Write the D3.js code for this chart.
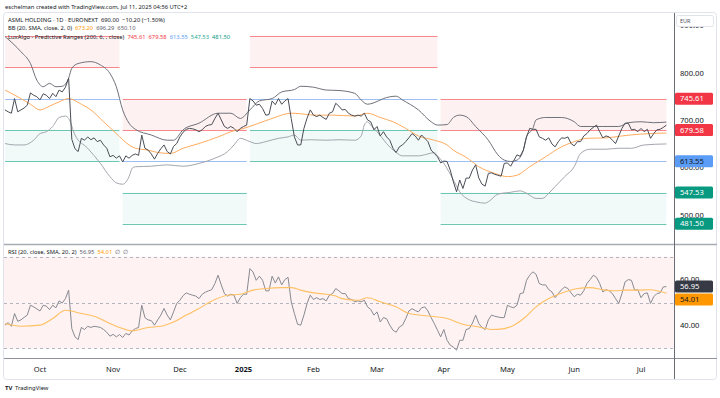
<!DOCTYPE html>
<html>
<head>
<meta charset="utf-8">
<script src="https://cdn.jsdelivr.net/npm/d3@7"></script>
<style>
  body { margin: 0; background: #fff; }
  svg { display: block; font-family: "Noto Sans", Roboto, sans-serif; }
</style>
</head>
<body>
<div id="chart"></div>
<script>
// ---- data (session index 0 = 2024-09-16) ----
const startDate = "2024-09-16";
const sessionCount = 209;
const holidays = ["2024-12-25", "2024-12-26", "2025-01-01", "2025-04-18", "2025-04-21", "2025-05-01"];
const monthNames = ["Jan", "Feb", "Mar", "Apr", "May", "Jun", "Jul", "Aug", "Sep", "Oct", "Nov", "Dec"];

const close = [
  722, 718, 715, 746, 718, 722, 726, 732, 758, 753,
  750, 743, 756, 753, 746, 757, 750, 764, 760, 770,
  789, 660, 640, 634, 662, 658, 665, 659, 663, 655,
  658, 648, 641, 623, 626, 620, 625, 612, 625, 620,
  626, 629, 626, 669, 641, 637, 629, 618, 630, 640,
  648, 634, 629, 645, 651, 665, 675, 681, 683, 682,
  680, 676, 680, 687, 690, 691, 704, 715, 701, 687,
  683, 687, 683, 676, 683, 687, 690, 746, 741, 732,
  734, 725, 711, 712, 741, 733, 746, 734, 741, 746,
  704, 665, 648, 648, 683, 705, 722, 711, 708, 711,
  706, 702, 715, 718, 736, 730, 722, 723, 715, 711,
  709, 711, 709, 715, 701, 697, 680, 687, 667, 676,
  665, 658, 641, 632, 644, 648, 655, 663, 672, 667,
  658, 669, 662, 655, 637, 630, 623, 610, 614, 613,
  595, 570, 549, 574, 556, 578, 578, 595, 606, 578,
  565, 561, 588, 589, 586, 584, 582, 609, 610, 603,
  615, 627, 624, 637, 665, 683, 681, 681, 665, 662,
  658, 663, 650, 644, 655, 663, 662, 665, 651, 646,
  655, 655, 667, 672, 680, 685, 690, 676, 663, 667,
  665, 658, 651, 667, 683, 694, 694, 680, 681, 676,
  683, 676, 681, 662, 672, 680, 681, 685, 690
];

const bbUpper = [
  [0, 877], [5, 845], [8, 820], [10, 785], [12, 771], [14, 778], [16, 771], [18, 772],
  [20, 789], [21, 810], [23, 820], [27, 824], [30, 817], [33, 799], [35, 771], [37, 722],
  [39, 694], [41, 681], [46, 669], [51, 658], [53, 658], [56, 680], [61, 694], [67, 715],
  [71, 715], [74, 704], [77, 722], [80, 741], [84, 746], [87, 760], [91, 765], [93, 772],
  [97, 770], [101, 764], [105, 763], [110, 757], [112, 743], [114, 734], [116, 737],
  [119, 746], [123, 751], [125, 743], [130, 722], [134, 697], [136, 690], [139, 691],
  [141, 706], [143, 711], [145, 708], [148, 687], [152, 658], [155, 627], [157, 616],
  [159, 613], [161, 616], [163, 637], [164, 665], [166, 683], [167, 701], [170, 706],
  [175, 706], [179, 697], [181, 687], [184, 687], [188, 687], [193, 687], [196, 695],
  [200, 697], [204, 695], [208, 696.29]
];

const bbLower = [
  [0, 651], [3, 648], [6, 648], [9, 658], [11, 672], [13, 676], [15, 687], [17, 706],
  [19, 709], [20, 704], [22, 669], [26, 641], [30, 609], [33, 581], [35, 568], [37, 565],
  [39, 581], [40, 599], [41, 602], [46, 603], [51, 606], [56, 603], [61, 609], [66, 620],
  [70, 634], [72, 648], [74, 662], [77, 655], [79, 651], [82, 655], [86, 662], [89, 665],
  [91, 669], [93, 658], [96, 659], [101, 658], [105, 659], [110, 658], [112, 667],
  [113, 690], [114, 697], [115, 690], [117, 676], [120, 651], [123, 632], [125, 625],
  [130, 625], [133, 629], [135, 632], [136, 625], [138, 609], [141, 574], [143, 549],
  [146, 532], [148, 528], [151, 525], [152, 528], [155, 544], [159, 548], [162, 551],
  [164, 546], [167, 535], [169, 535], [171, 546], [173, 560], [176, 581], [179, 602],
  [181, 630], [184, 639], [189, 639], [193, 641], [197, 641], [201, 648], [208, 650.10]
];

const bbBasis = [
  [0, 764], [5, 746], [8, 734], [11, 722], [14, 730], [17, 739], [20, 746], [24, 734],
  [27, 722], [31, 697], [35, 672], [39, 648], [41, 641], [45, 637], [48, 632], [52, 630],
  [56, 641], [61, 651], [67, 665], [72, 678], [74, 681], [79, 692], [84, 704], [90, 715],
  [93, 714], [97, 711], [103, 711], [110, 709], [114, 715], [118, 706], [122, 697],
  [126, 683], [130, 667], [135, 658], [139, 648], [141, 637], [145, 622], [149, 602],
  [154, 588], [158, 581], [161, 584], [165, 602], [170, 623], [175, 644], [179, 655],
  [183, 662], [189, 663], [194, 667], [200, 671], [208, 673.20]
];

// LuxAlgo predictive ranges: one average per segment, levels at +-1 and +-2 steps
const rangeStart = [0, 37, 77, 137];
const rangeEnd = [36, 76, 136, 208];
const rangeAvg = [745.61, 613.55, 745.61, 613.55];
const rangeStep = 66.03;

const rsi = [
  40.1, 41.2, 39.6, 45.2, 41.8, 42.4, 43.5, 44.5, 48.8, 48.1,
  47.2, 46.3, 48.8, 48.4, 46.9, 48.8, 47.7, 50.7, 49.8, 51.7,
  55.4, 38.6, 35.0, 33.8, 39.1, 38.2, 39.6, 39.1, 39.6, 39.4,
  39.1, 38.2, 37.0, 35.3, 36.1, 35.0, 36.0, 34.7, 36.5, 35.8,
  37.6, 38.6, 39.1, 48.8, 43.4, 42.4, 42.1, 40.1, 42.4, 44.5,
  47.4, 44.5, 42.4, 45.9, 49.6, 51.0, 53.0, 54.2, 53.6, 53.2,
  52.8, 51.7, 53.6, 54.5, 55.1, 55.6, 58.3, 61.9, 57.7, 53.9,
  52.8, 53.6, 53.2, 49.6, 52.1, 53.6, 53.6, 64.8, 63.3, 59.7,
  61.5, 59.7, 55.1, 55.1, 61.5, 58.5, 61.2, 57.7, 60.0, 61.0,
  50.3, 45.2, 40.5, 40.1, 44.5, 49.6, 53.2, 51.3, 52.1, 51.3,
  51.7, 50.7, 53.2, 53.9, 56.1, 55.1, 53.9, 53.9, 51.7, 51.3,
  50.3, 50.7, 50.3, 51.0, 48.1, 47.0, 44.5, 45.9, 41.5, 43.4,
  42.9, 40.1, 37.9, 37.0, 39.3, 40.1, 42.9, 46.3, 47.3, 46.5,
  45.9, 47.7, 48.1, 46.3, 43.4, 40.8, 37.9, 35.0, 38.2, 33.5,
  31.4, 30.5, 29.2, 33.5, 33.5, 38.2, 38.6, 41.0, 44.5, 40.8,
  39.1, 38.2, 42.4, 44.5, 44.0, 43.7, 43.4, 43.4, 48.8, 48.1,
  47.7, 48.8, 53.9, 54.2, 59.7, 61.9, 63.4, 62.3, 58.3, 57.7,
  57.7, 55.6, 54.6, 52.1, 53.9, 55.6, 56.8, 56.1, 54.2, 52.5,
  53.6, 53.2, 55.1, 58.3, 60.0, 61.9, 61.0, 58.3, 54.6, 55.6,
  55.1, 53.9, 51.7, 49.6, 53.9, 59.0, 60.0, 59.7, 55.4, 55.6,
  52.1, 53.9, 54.2, 49.6, 52.5, 53.9, 54.2, 56.8, 56.95
];

const rsiMa = [
  [0, 40.8], [5, 39.6], [11, 40.1], [15, 43], [19, 46.6], [24, 45.2], [28, 44], [32, 41.5],
  [36, 39.1], [40, 37.6], [45, 39.1], [49, 39.6], [53, 41.5], [57, 44.5], [61, 47.4],
  [66, 51.3], [70, 53.2], [74, 53.6], [78, 55.4], [82, 56.1], [87, 56.5], [90, 56.5],
  [93, 55.4], [97, 54.2], [101, 53.6], [104, 52.8], [106, 51.7], [111, 51], [114, 52.1],
  [118, 50.3], [123, 48.1], [127, 45.2], [134, 44], [139, 43], [144, 40.5], [149, 39.3],
  [153, 38.2], [157, 38.6], [160, 40.1], [163, 42.9], [167, 48.1], [171, 51.7],
  [176, 54.6], [180, 56.1], [184, 56.5], [188, 55.6], [192, 55.1], [195, 55.4],
  [199, 55.4], [203, 55.6], [208, 54.01]
];

const priceTicks = [500, 600, 700, 800, 900];
const rsiTicks = [40, 60];
const rsiLevels = [30, 50, 70];

// ---- layout ----
const W = 720, H = 398;
const plotL = 4, plotR = 674;
const mainTop = 13, mainBot = 244;
const rsiTop = 245, rsiBot = 358;
const timeBot = 379;

const svg = d3.select("#chart").append("svg").attr("width", W).attr("height", H);

// trading sessions
const holidaySet = new Set(holidays);
const fmt = d3.utcFormat("%Y-%m-%d");
const sessions = [];
let day = new Date(startDate + "T00:00:00Z");
while (sessions.length < sessionCount) {
  const wd = day.getUTCDay();
  if (wd !== 0 && wd !== 6 && !holidaySet.has(fmt(day))) sessions.push(new Date(day));
  day = d3.utcDay.offset(day, 1);
}
const monthStarts = [];
sessions.forEach((d, i) => {
  if (i > 0 && d.getUTCMonth() !== sessions[i - 1].getUTCMonth()) monthStarts.push(i);
});

const x = d3.scaleLinear().domain([11, 200]).range([40, 641]);
const y = d3.scaleLinear().domain([500, 800]).range([215, 73]);
const yR = d3.scaleLinear().domain([30, 70]).range([348.3, 256.7]);

// clip paths
const defs = svg.append("defs");
defs.append("clipPath").attr("id", "clipMain").append("rect")
  .attr("x", plotL).attr("y", mainTop).attr("width", plotR - plotL).attr("height", mainBot - mainTop);
defs.append("clipPath").attr("id", "clipRsi").append("rect")
  .attr("x", plotL).attr("y", rsiTop).attr("width", plotR - plotL).attr("height", rsiBot - rsiTop);

// frame
svg.append("rect").attr("x", 3.5).attr("y", 12.5).attr("width", 713).attr("height", timeBot - 12)
  .attr("rx", 3).attr("fill", "none").attr("stroke", "#e0e3eb");

// ---- main pane ----
const main = svg.append("g").attr("clip-path", "url(#clipMain)");

rangeStart.forEach((s, k) => {
  const e = rangeEnd[k], a = rangeAvg[k];
  const x0 = x(s), x1 = x(e);
  const r2 = a + 2 * rangeStep, r1 = a + rangeStep, s1 = a - rangeStep, s2 = a - 2 * rangeStep;
  main.append("rect").attr("x", x0).attr("width", x1 - x0)
    .attr("y", y(r2)).attr("height", y(r1) - y(r2)).attr("fill", "rgba(242,54,69,0.07)");
  main.append("rect").attr("x", x0).attr("width", x1 - x0)
    .attr("y", y(s1)).attr("height", y(s2) - y(s1)).attr("fill", "rgba(8,153,129,0.05)");
  [[r2, "#f7868d"], [r1, "#f7868d"], [a, "#9dbff5"], [s1, "#6cc6b4"], [s2, "#6cc6b4"]].forEach(([v, c]) => {
    main.append("line").attr("x1", x0).attr("x2", x1)
      .attr("y1", Math.round(y(v)) + 0.5).attr("y2", Math.round(y(v)) + 0.5)
      .attr("stroke", c).attr("stroke-width", 1);
  });
});

const lineXY = d3.line().x(d => x(d[0])).y(d => y(d[1])).curve(d3.curveMonotoneX);
main.append("path").attr("d", lineXY(bbLower)).attr("fill", "none").attr("stroke", "#a3a6ad").attr("stroke-width", 1);
main.append("path").attr("d", lineXY(bbUpper)).attr("fill", "none").attr("stroke", "#6f727a").attr("stroke-width", 1);
main.append("path").attr("d", lineXY(bbBasis)).attr("fill", "none").attr("stroke", "#ffab5e").attr("stroke-width", 1);

const closeLine = d3.line().x((d, i) => x(i)).y(d => y(d));
main.append("path").attr("d", closeLine(close)).attr("fill", "none")
  .attr("stroke", "#4a4d55").attr("stroke-width", 1);

// pane separators and axis line
svg.append("line").attr("x1", plotL).attr("x2", 717).attr("y1", 244.5).attr("y2", 244.5)
  .attr("stroke", "#a8abb3").attr("stroke-width", 1.5);
svg.append("line").attr("x1", plotL).attr("x2", 717).attr("y1", rsiBot + 0.5).attr("y2", rsiBot + 0.5)
  .attr("stroke", "#8e9199").attr("stroke-width", 1);
svg.append("line").attr("x1", plotR + 0.5).attr("x2", plotR + 0.5).attr("y1", mainTop).attr("y2", timeBot)
  .attr("stroke", "#6a6d75").attr("stroke-width", 1);

// ---- RSI pane ----
const rp = svg.append("g").attr("clip-path", "url(#clipRsi)");
rp.append("rect").attr("x", plotL).attr("width", plotR - plotL)
  .attr("y", yR(70)).attr("height", yR(30) - yR(70)).attr("fill", "#fef2f3");
rsiLevels.forEach(v => {
  rp.append("line").attr("x1", plotL).attr("x2", plotR)
    .attr("y1", Math.round(yR(v)) + 0.5).attr("y2", Math.round(yR(v)) + 0.5)
    .attr("stroke", "#b2b5be").attr("stroke-dasharray", "3,3").attr("stroke-width", 1);
});
const rsiLine = d3.line().x((d, i) => x(i)).y(d => yR(d));
rp.append("path").attr("d", rsiLine(rsi)).attr("fill", "none").attr("stroke", "#878a91").attr("stroke-width", 1);
const maLine = d3.line().x(d => x(d[0])).y(d => yR(d[1])).curve(d3.curveMonotoneX);
rp.append("path").attr("d", maLine(rsiMa)).attr("fill", "none").attr("stroke", "#ffc061").attr("stroke-width", 1.1);

// ---- price axis ----
const axisG = svg.append("g").attr("font-size", 7.6).attr("fill", "#131722");
priceTicks.forEach(v => {
  axisG.append("text").attr("x", 680).attr("y", y(v)).attr("dy", "0.35em").text(d3.format(".2f")(v));
});
rsiTicks.forEach(v => {
  axisG.append("text").attr("x", 680).attr("y", yR(v)).attr("dy", "0.35em").text(d3.format(".2f")(v));
});

// EUR box
svg.append("rect").attr("x", 676.5).attr("y", 15.5).attr("width", 37).attr("height", 11)
  .attr("rx", 2).attr("fill", "#fff").attr("stroke", "#e0e3eb");
svg.append("text").attr("x", 680).attr("y", 21).attr("dy", "0.35em").attr("font-size", 5.5)
  .attr("fill", "#4a4e59").text("EUR");

// value labels
const priceLabels = [
  { v: 745.61, bg: "#f23645", fg: "#fff", yy: y(745.61) },
  { v: 679.58, bg: "#f23645", fg: "#fff", yy: y(679.58) },
  { v: 613.55, bg: "#5b9cf6", fg: "#131722", yy: y(613.55) },
  { v: 547.53, bg: "#089981", fg: "#fff", yy: y(547.53) },
  { v: 481.50, bg: "#089981", fg: "#fff", yy: y(481.50) },
  { v: 56.95, bg: "#363a45", fg: "#fff", yy: yR(56.95) },
  { v: 54.01, bg: "#ff9800", fg: "#131722", yy: yR(56.95) + 13 }
];
priceLabels.forEach(p => {
  svg.append("rect").attr("x", 675).attr("y", p.yy - 6).attr("width", 38).attr("height", 12)
    .attr("rx", 1.5).attr("fill", p.bg);
  svg.append("text").attr("x", 680).attr("y", p.yy).attr("dy", "0.35em").attr("font-size", 7.6)
    .attr("fill", p.fg).text(d3.format(".2f")(p.v));
});

// ---- time axis ----
const timeG = svg.append("g").attr("font-size", 7.6).attr("fill", "#131722").attr("text-anchor", "middle");
monthStarts.forEach(i => {
  const d = sessions[i];
  const isYear = d.getUTCMonth() === 0;
  timeG.append("text").attr("x", x(i)).attr("y", 369).attr("dy", "0.35em")
    .attr("font-weight", isYear ? "bold" : null)
    .text(isYear ? d.getUTCFullYear() : monthNames[d.getUTCMonth()]);
});

// ---- legends ----
const small = 5.8;
svg.append("text").attr("x", 5).attr("y", 7).attr("dy", "0.35em").attr("font-size", small)
  .attr("fill", "#131722").text("eschelman created with TradingView.com, Jul 11, 2025 04:56 UTC+2");

const legendRows = [
  [["ASML HOLDING · 1D · EURONEXT", "#131722"], ["690.00", "#131722"], ["−10.20 (−1.50%)", "#131722"]],
  [["BB (20, SMA, close, 2, 0)", "#131722"], ["673.20", "#ff9800"], ["696.29", "#5d606b"], ["650.10", "#5d606b"]],
  [["LuxAlgo - Predictive Ranges (200, 6, , close)", "#131722"], ["745.61", "#f23645"], ["679.58", "#f23645"],
   ["613.55", "#5b9cf6"], ["547.53", "#22ab94"], ["481.50", "#089981"]]
];
legendRows.forEach((row, r) => {
  const t = svg.append("text").attr("x", 8).attr("y", 20 + r * 8.3).attr("dy", "0.35em")
    .attr("font-size", small).attr("xml:space", "preserve");
  row.forEach((part, k) => {
    t.append("tspan").attr("fill", part[1]).text((k ? "  " : "") + part[0]);
  });
});

const rsiLegend = svg.append("text").attr("x", 8).attr("y", 251.5).attr("dy", "0.35em")
  .attr("font-size", small).attr("xml:space", "preserve");
[["RSI (20, close, SMA, 20, 2)", "#131722"], ["56.95", "#5d606b"], ["54.01", "#ff9800"], ["∅", "#5d606b"], ["∅", "#5d606b"]]
  .forEach((part, k) => rsiLegend.append("tspan").attr("fill", part[1]).text((k ? "  " : "") + part[0]));

// footer logo
svg.append("text").attr("x", 5).attr("y", 388).attr("dy", "0.35em").attr("font-size", 6)
  .attr("font-weight", "bold").attr("fill", "#131722").text("TV");
svg.append("text").attr("x", 15).attr("y", 388).attr("dy", "0.35em").attr("font-size", 5.8)
  .attr("fill", "#131722").text("TradingView");
</script>
</body>
</html>
